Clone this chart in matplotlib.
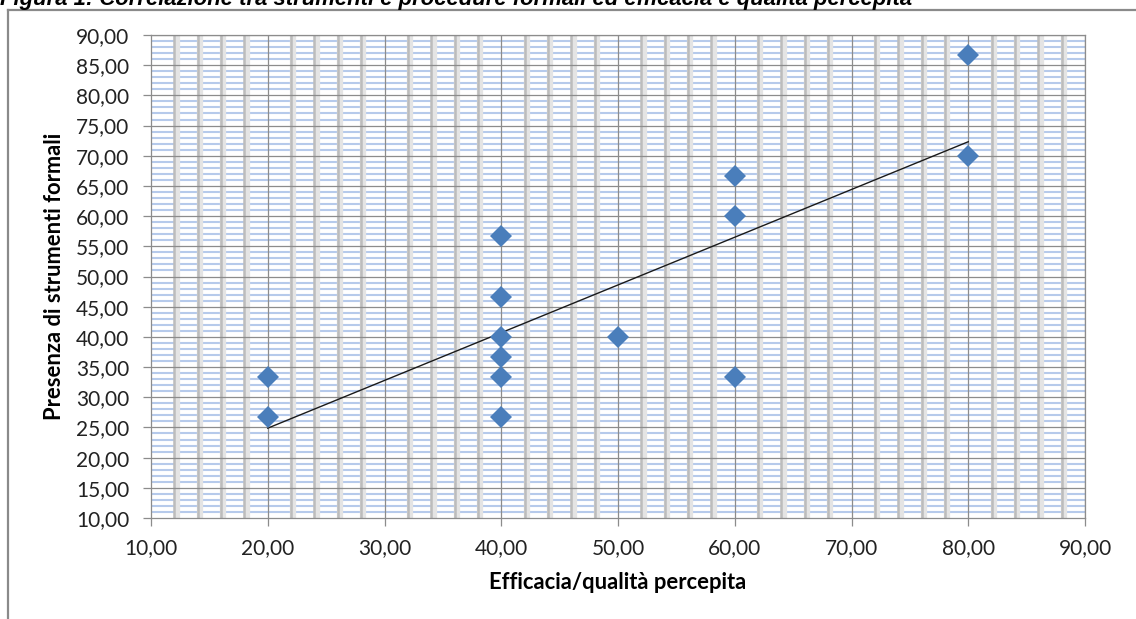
import numpy as np
import matplotlib
matplotlib.use("Agg")
import matplotlib.pyplot as plt
from matplotlib.ticker import MultipleLocator, FuncFormatter
from matplotlib.lines import Line2D

# ---- data ----
efficacia = [20, 20, 40, 40, 40, 40, 40, 40, 50, 60, 60, 60, 80, 80]
strumenti = [33.33, 26.67, 56.67, 46.67, 40.00, 36.67, 33.33, 26.67,
             40.00, 66.67, 60.00, 33.33, 86.67, 70.00]
title = "Figura 1: Correlazione tra strumenti e procedure formali ed efficacia e qualità percepita"
xlabel = "Efficacia/qualità percepita"
ylabel = "Presenza di strumenti formali"

W, H = 1136, 619
fig = plt.figure(figsize=(W / 100, H / 100), dpi=100)

# chart area frame (cut off on right/bottom)
fig.add_artist(Line2D([8 / W, 1.0], [1 - 10 / H, 1 - 10 / H], transform=fig.transFigure,
                      color="#8a8a8a", lw=1.6))
fig.add_artist(Line2D([8 / W, 8 / W], [1 - 10 / H, 0], transform=fig.transFigure,
                      color="#8a8a8a", lw=1.6))

# title, partly cut off at top (as in the reference)
fig.text(0.0, 1 - 5 / H, title, fontfamily="Liberation Sans", fontweight="bold",
         fontstyle="italic", fontsize=15.8, va="baseline", ha="left")

ax = fig.add_axes([151 / W, 1 - 518 / H, (1085 - 151) / W, (518 - 35) / H])
ax.set_xlim(10, 90)
ax.set_ylim(10, 90)

# gridlines (Excel style)
for yv in np.arange(11, 90, 1):
    if yv % 5:
        ax.axhline(yv, color="#b6caeb", lw=1.5, zorder=0.5)
for xv in np.arange(12, 90, 2):
    if xv % 10:
        ax.axvline(xv + 0.2, color="#e4e4e4", lw=4.5, zorder=0.6)
        ax.axvline(xv, color="#bcbcbc", lw=1.8, zorder=0.7)
for yv in np.arange(15, 91, 5):
    ax.axhline(yv, color="#8c8c8c", lw=0.9, zorder=0.8)
for xv in np.arange(20, 91, 10):
    ax.axvline(xv, color="#8c8c8c", lw=0.9, zorder=0.8)

# trendline
x = np.array(efficacia, dtype=float)
y = np.array(strumenti, dtype=float)
slope, intercept = np.polyfit(x, y, 1)
xt = np.array([x.min(), x.max()])
ax.plot(xt, slope * xt + intercept, color="#1a1a1a", lw=1.0, zorder=2)

ax.plot(x, y, linestyle="none", marker="D", markersize=11, color="#4a7ebb",
        markeredgewidth=0, zorder=3)

for s in ax.spines.values():
    s.set_color("#8c8c8c")
    s.set_linewidth(0.9)

fmt = FuncFormatter(lambda v, p: f"{v:.2f}".replace(".", ","))
ax.xaxis.set_major_locator(MultipleLocator(10))
ax.yaxis.set_major_locator(MultipleLocator(5))
ax.xaxis.set_major_formatter(fmt)
ax.yaxis.set_major_formatter(fmt)
ax.tick_params(axis="both", which="major", length=5.5, width=0.9, color="#8c8c8c",
               labelsize=15, labelcolor="#222222")
ax.tick_params(axis="x", pad=9)
ax.tick_params(axis="y", pad=10)
for lab in ax.get_xticklabels() + ax.get_yticklabels():
    lab.set_fontfamily("Lato")

ax.set_xlabel(xlabel, fontfamily="Lato", fontweight="bold", fontsize=15.8, labelpad=10)
ax.set_ylabel(ylabel, fontfamily="Lato", fontweight="bold", fontsize=15.8, labelpad=8)

fig.savefig("out.png", dpi=100)
